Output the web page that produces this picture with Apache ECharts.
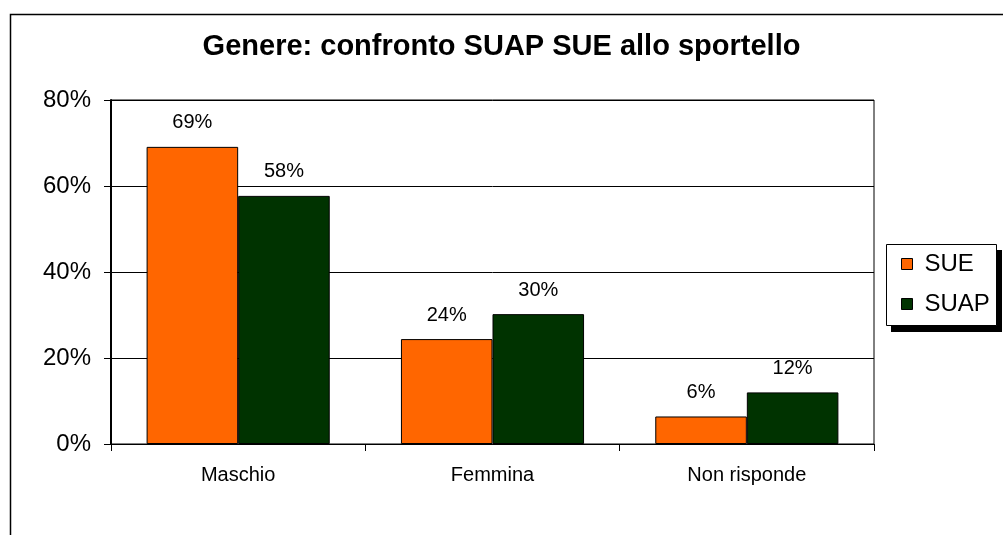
<!DOCTYPE html>
<html><head><meta charset="utf-8">
<script src="https://cdn.jsdelivr.net/npm/echarts@6/dist/echarts.min.js"></script>
<style>html,body{margin:0;padding:0;background:#fff}#c{width:1003px;height:535px}</style>
</head><body><div id="c"></div>
<script>
const categories = ['Maschio', 'Femmina', 'Non risponde'];
const sue = [69.1, 24.4, 6.4];
const suap = [57.7, 30.2, 12.0];
const sueLabels = ['69%', '24%', '6%'];
const suapLabels = ['58%', '30%', '12%'];
const yTicks = [0, 20, 40, 60, 80];

const chart = echarts.init(document.getElementById('c'));
const font = 'Liberation Sans, Arial, sans-serif';
function mk(name, data, labels, color) {
  return {
    name, type: 'bar', data, barGap: '0%', barCategoryGap: '28%',
    itemStyle: { color, borderColor: '#000', borderWidth: 1 },
    label: { show: true, position: 'top', distance: 14, color: '#000', fontFamily: font, fontSize: 20,
      formatter: p => labels[p.dataIndex] }
  };
}
chart.setOption({
  animation: false,
  backgroundColor: '#fff',
  graphic: [
    { type: 'rect', z: 0, shape: { x: 10.5, y: 14.5, width: 1010, height: 600 }, style: { fill: 'none', stroke: '#000', lineWidth: 1.5 } },
    { type: 'rect', z: 1, shape: { x: 891, y: 250, width: 111, height: 82 }, style: { fill: '#000' } },
    { type: 'rect', z: 2, shape: { x: 886.5, y: 244.5, width: 110, height: 81 }, style: { fill: '#fff', stroke: '#000', lineWidth: 1 } }
  ],
  title: { text: 'Genere: confronto SUAP SUE allo sportello', left: 'center', top: 27,
    textStyle: { fontFamily: font, fontSize: 29, fontWeight: 'bold', color: '#000' } },
  grid: { left: 111, right: 129, top: 100, bottom: 91, show: true, borderColor: '#000', borderWidth: 1 },
  legend: {
    z: 10,
    orient: 'vertical', left: 886, top: 244,
    padding: [8, 3, 8, 15], itemGap: 16, itemWidth: 11, itemHeight: 11,
    itemStyle: { borderColor: '#000', borderWidth: 1 },
    textStyle: { fontFamily: font, fontSize: 24, lineHeight: 24, color: '#000', padding: [0, 0, 0, 7] },
    data: [{ name: 'SUE', icon: 'rect' }, { name: 'SUAP', icon: 'rect' }]
  },
  xAxis: {
    type: 'category', data: categories,
    axisLine: { lineStyle: { color: '#000', width: 1 } },
    axisTick: { show: true, length: 7, lineStyle: { color: '#000' } },
    axisLabel: { color: '#000', fontFamily: font, fontSize: 20, margin: 21 }
  },
  yAxis: {
    type: 'value', min: 0, max: 80, interval: 20,
    axisLine: { show: true, lineStyle: { color: '#000', width: 2 } },
    axisTick: { show: true, length: 7, lineStyle: { color: '#000' } },
    splitLine: { lineStyle: { color: '#000', width: 1 } },
    axisLabel: { color: '#000', fontFamily: font, fontSize: 24, margin: 20,
      formatter: v => yTicks.includes(v) ? v + '%' : '' }
  },
  series: [mk('SUE', sue, sueLabels, '#ff6600'), mk('SUAP', suap, suapLabels, '#003300')]
});
</script></body></html>
